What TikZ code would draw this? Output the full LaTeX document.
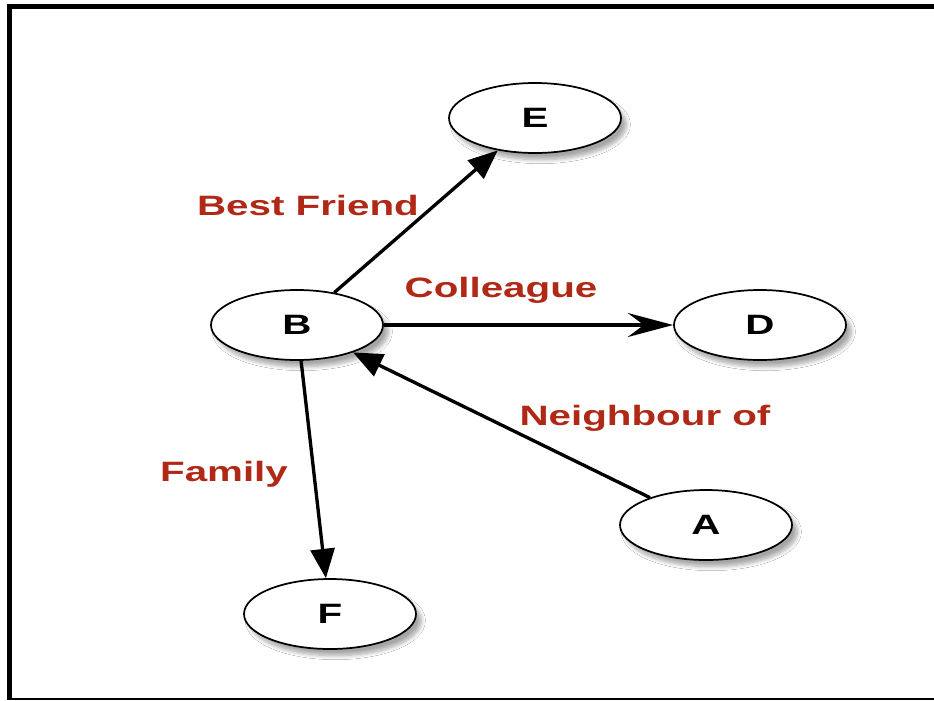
\documentclass[tikz,border=0pt]{standalone}
\usepackage{fontspec}
\setmainfont{Liberation Sans}
\usepackage{graphicx}
\usetikzlibrary{arrows.meta,shapes.geometric,shadows.blur}
\definecolor{labelred}{RGB}{176,40,22}
% wide lettering used throughout the graph
\newcommand{\widetext}[1]{\scalebox{1.44}[1]{#1}}

\begin{document}
\begin{tikzpicture}[x=0.75pt,y=-0.75pt,
  person/.style={ellipse, draw=black, line width=1.3pt, fill=white,
    minimum width=129pt, minimum height=52.5pt, inner sep=0pt,
    font=\fontsize{21}{25}\selectfont\bfseries,
    blur shadow={shadow xshift=4pt, shadow yshift=-5pt,
      shadow blur radius=3pt, shadow blur steps=8, shadow opacity=35}},
  rel/.style={anchor=base, text=labelred, inner sep=0pt,
    font=\fontsize{21}{25}\selectfont\bfseries},
  link/.style={line width=2.5pt, -{Triangle[length=22pt,width=18pt]}},
  openlink/.style={line width=2.5pt, -{Stealth[length=34pt,width=18pt,inset=12pt]}}]

% white page ground
\fill[white] (0,0) rectangle (934,700);

% frame: heavy top and left rules, thin bottom rule
\fill[black] (7,4) rectangle (934,9);
\fill[black] (7,4) rectangle (12,700);
\fill[black] (7,698) rectangle (934,700);

% people
\node[person] (E) at (535,118) {\widetext{E}};
\node[person] (B) at (297,325) {\widetext{B}};
\node[person] (D) at (760,325) {\widetext{D}};
\node[person] (A) at (706,525) {\widetext{A}};
\node[person] (F) at (330,614) {\widetext{F}};

% relations
\draw[link] (B) -- (E);
\draw[openlink] (B) -- (D);
\draw[link] (A) -- (B);
\draw[link] (B) -- (F);

% relation labels
\node[rel] (lbf) at (308,215) {\widetext{Best Friend}};
\node[rel] (lco) at (501,297) {\widetext{Colleague}};
\node[rel] (lnb) at (645,425) {\widetext{Neighbour of}};
\node[rel] (lfa) at (224,481) {\widetext{Family}};

\useasboundingbox (0,0) rectangle (934,700);
\end{tikzpicture}
\end{document}
